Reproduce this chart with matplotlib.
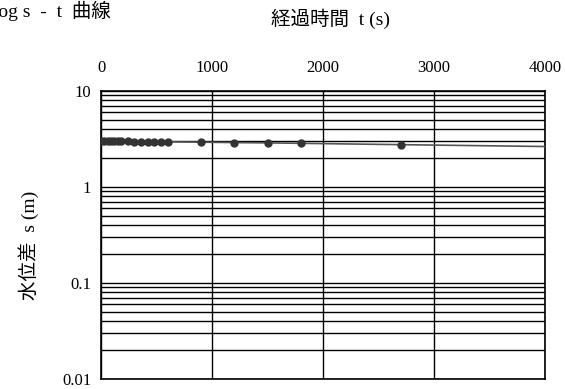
import matplotlib
matplotlib.use("Agg")
import matplotlib.pyplot as plt
from matplotlib.ticker import LogLocator, FixedLocator, NullFormatter

# data (t in s, s in m)
t_obs = [0, 30, 60, 90, 120, 150, 180, 240, 300, 360, 420, 480, 540, 600,
         900, 1200, 1500, 1800, 2700]
s_obs = [3.0, 3.0, 3.0, 3.0, 2.99, 2.99, 2.98, 2.98, 2.97, 2.97, 2.96, 2.96,
         2.95, 2.95, 2.93, 2.9, 2.88, 2.85, 2.76]
t_ext = [2700, 4000]
s_ext = [2.76, 2.64]

x_ticks = [0, 1000, 2000, 3000, 4000]
y_ticks = [0.01, 0.1, 1, 10]
y_ticklabels = ["0.01", "0.1", "1", "10"]

num_font = ["Liberation Serif", "Noto Sans CJK JP"]

fig = plt.figure(figsize=(5.65, 3.89), dpi=100)
ax = fig.add_axes([0.1788, 0.0257, 0.7858, 0.7404])

ax.set_yscale("log")
ax.set_xlim(0, 4000)
ax.set_ylim(0.01, 10)

# grid: every log step and every 1000 s
ax.yaxis.set_minor_locator(LogLocator(base=10, subs=range(2, 10)))
ax.yaxis.set_minor_formatter(NullFormatter())
ax.yaxis.set_major_locator(FixedLocator(y_ticks))
ax.set_yticklabels(y_ticklabels, fontfamily=num_font, fontsize=12)
ax.grid(True, which="both", axis="y", color="black", linewidth=1.0)
ax.xaxis.tick_top()
ax.set_xticks(x_ticks)
ax.set_xticklabels([str(v) for v in x_ticks], fontfamily=num_font, fontsize=12)
ax.grid(True, which="major", axis="x", color="black", linewidth=1.0)
ax.tick_params(which="both", length=0)
ax.tick_params(axis="x", pad=11)
ax.tick_params(axis="y", pad=7)
for sp in ax.spines.values():
    sp.set_color("black")
    sp.set_linewidth(1.2)

ax.plot(t_ext, s_ext, color="#555555", linewidth=1.2, zorder=3)
ax.plot(t_obs, s_obs, color="#555555", linewidth=1.2, zorder=3)
ax.plot(t_obs, s_obs, "o", color="#333333", markersize=5, zorder=4)

fig.text(-0.012, 0.972, "log s  -  t  曲線", fontfamily=num_font, fontsize=14,
         va="center", ha="left")
fig.text(0.585, 0.952, "経過時間  t (s)", fontfamily=num_font, fontsize=14,
         va="center", ha="center")
fig.text(0.05, 0.37, "水位差  s (m)", fontfamily=num_font, fontsize=14,
         va="center", ha="center", rotation=90)

fig.savefig("out.png", dpi=100)
